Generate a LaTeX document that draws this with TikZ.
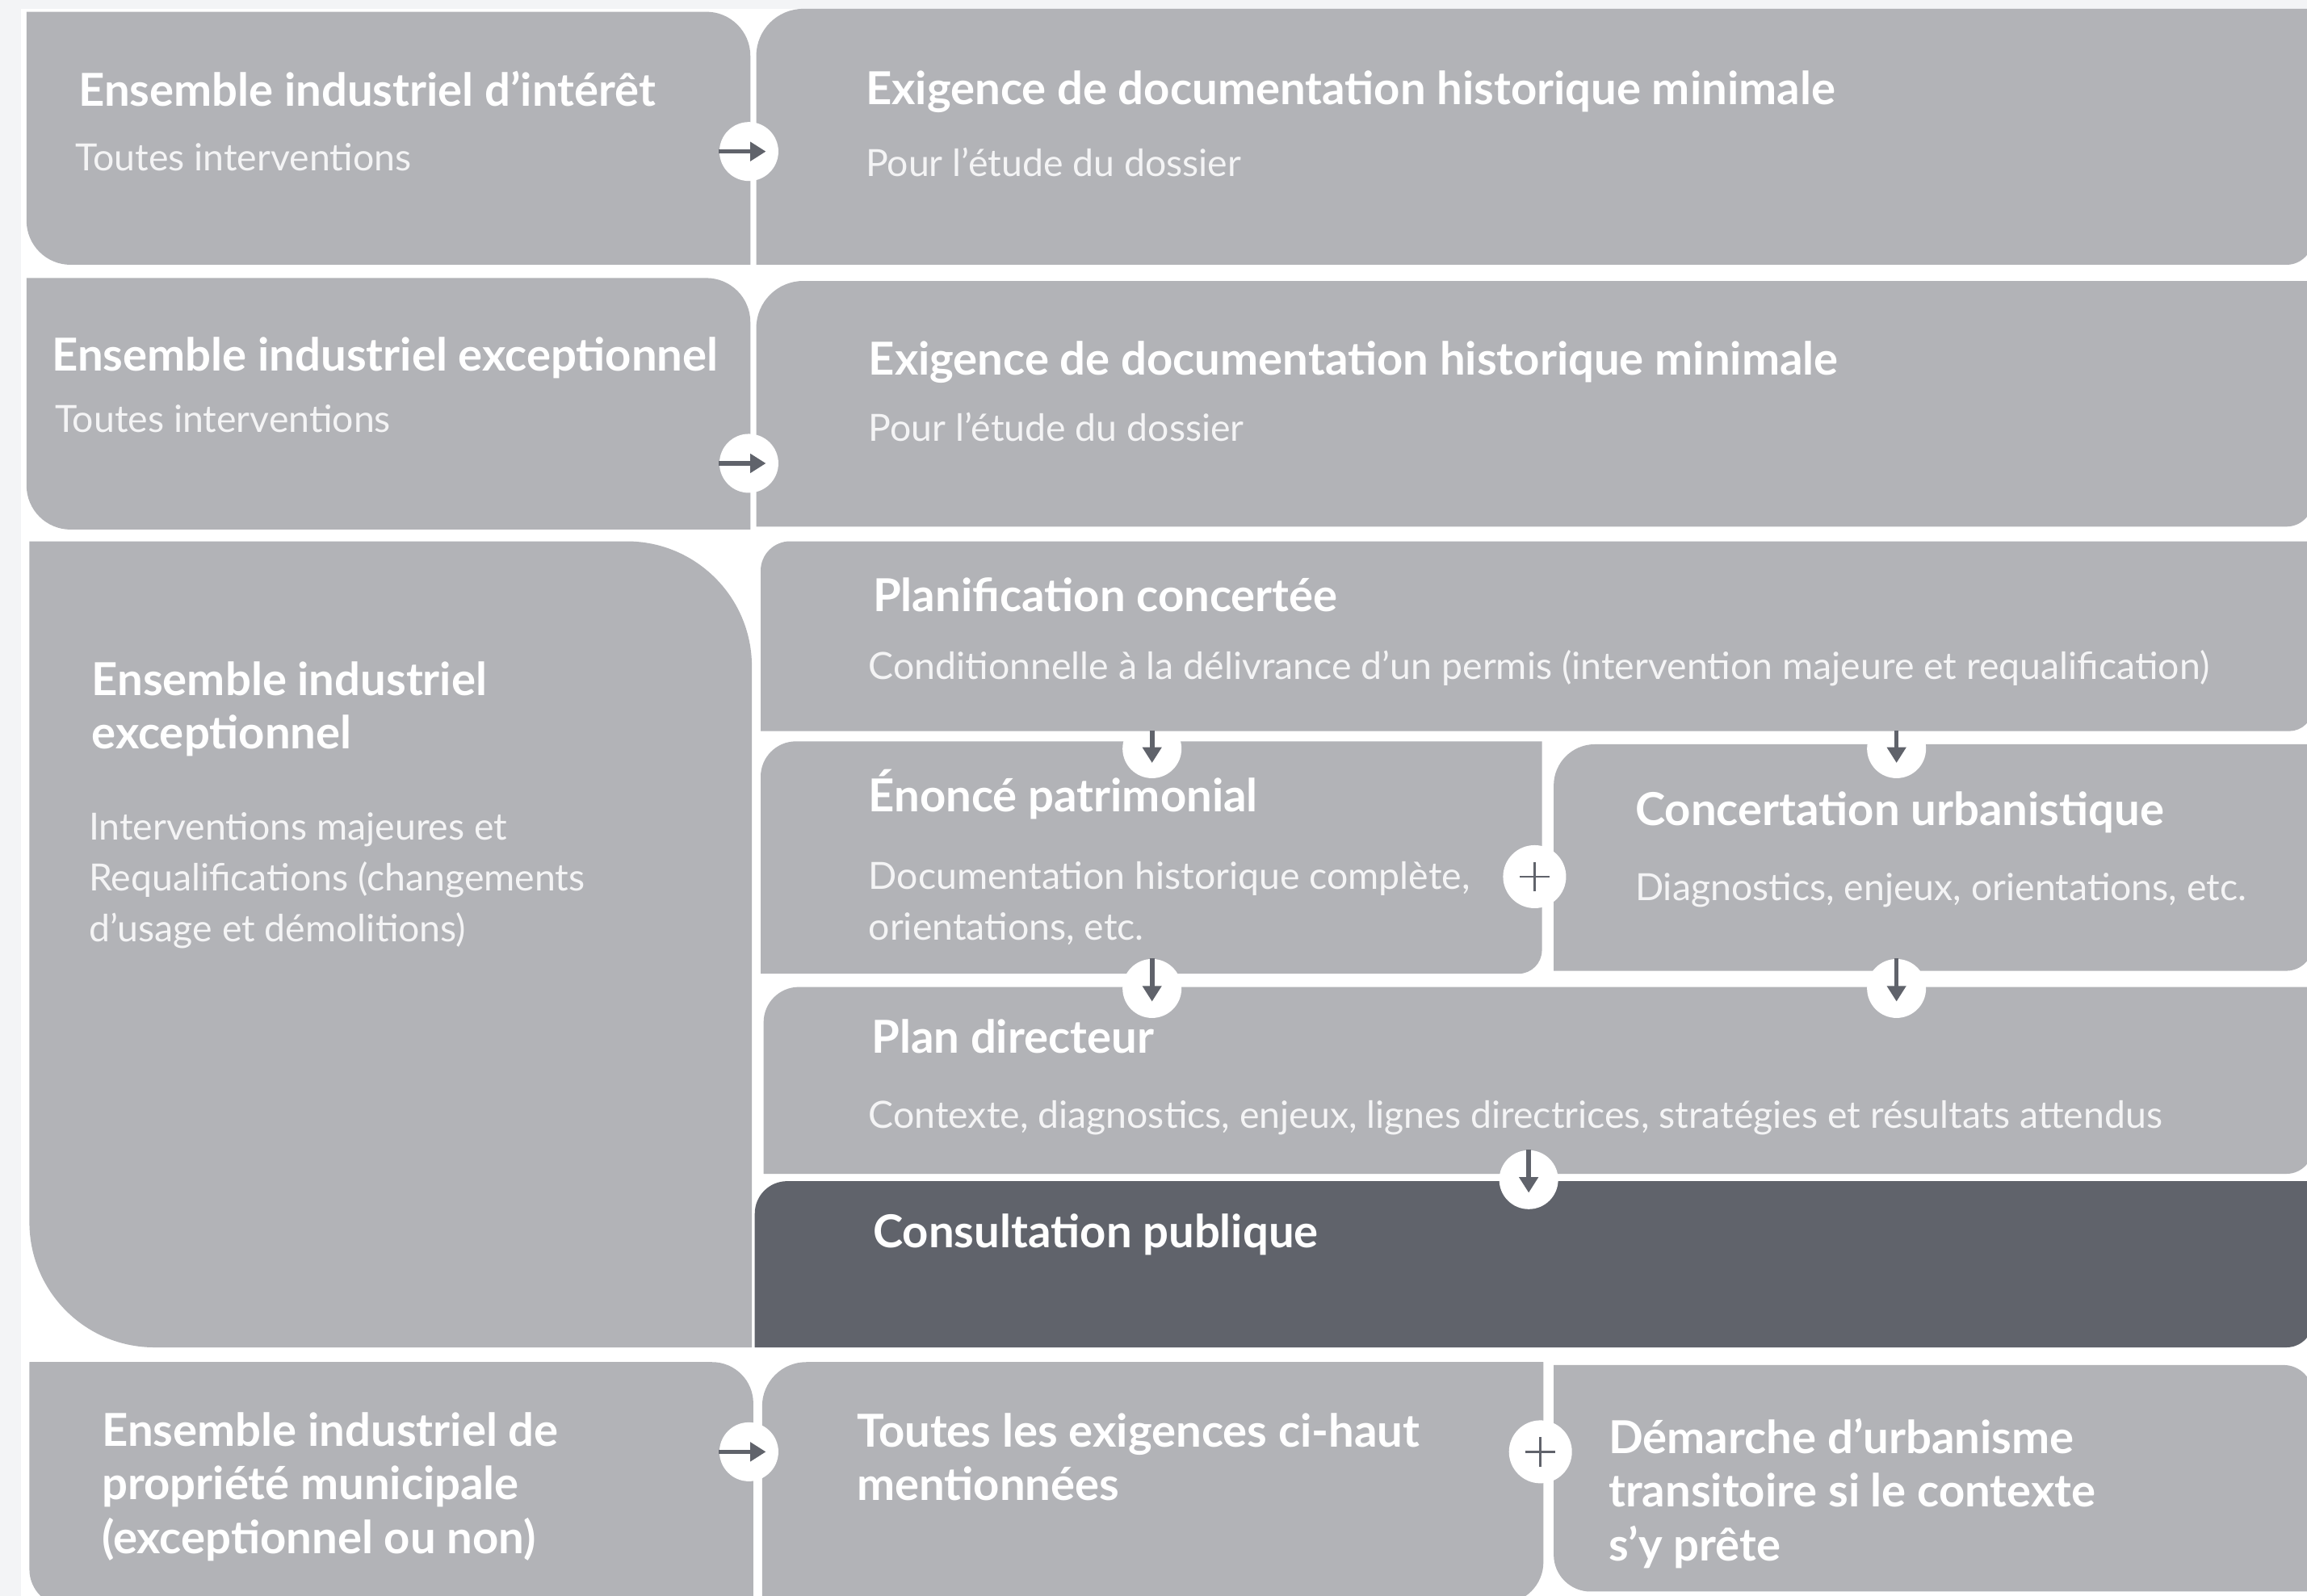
\documentclass[tikz,border=0pt]{standalone}
\usepackage{fontspec}
\setmainfont{Lato}
\usetikzlibrary{arrows.meta}

\definecolor{tilegray}{HTML}{B2B3B7}
\definecolor{tiledark}{HTML}{60636B}
\definecolor{pagegray}{HTML}{F3F4F6}
\definecolor{subwhite}{HTML}{F4F4F5}

% tile: colour, x1, y1, x2, y2, radii tl tr br bl
\newcommand{\drawtile}[9][tilegray]{%
  \fill[#1] (#2+#6,#3) -- (#4-#7,#3) arc[start angle=-90,end angle=0,radius=#7]
    -- (#4,#5-#8) arc[start angle=0,end angle=90,radius=#8]
    -- (#2+#9,#5) arc[start angle=90,end angle=180,radius=#9]
    -- (#2,#3+#6) arc[start angle=180,end angle=270,radius=#6] -- cycle;}

\begin{document}
\begin{tikzpicture}[x=0.01822cm, y=-0.01822cm,
  head/.style={anchor=base west, inner sep=0, text=white, align=left,
    font=\bfseries\fontsize{16}{18.9}\selectfont},
  sub/.style={anchor=base west, inner sep=0, text=subwhite, align=left,
    font=\fontsize{13.2}{17.8}\selectfont},
  hub/.style={circle, fill=white, inner sep=0, minimum size=0.73cm},
  plushub/.style={circle, fill=white, inner sep=0, minimum size=0.78cm},
  arr/.style={-{Triangle[length=5.5pt,width=6.5pt]}, line width=1.6pt, draw=tiledark},
  plusline/.style={draw=tiledark, line width=0.8pt}]

\useasboundingbox (0,0) rectangle (1568,1085);
\fill[white] (0,0) rectangle (1568,1085);
\fill[pagegray] (0,0) rectangle (14,1085);
\fill[pagegray] (0,0) rectangle (1568,6);

% rows 1 and 2
\drawtile{18}{8}{510}{180}{0.1}{30}{0.1}{30}
\drawtile{514}{6}{1572}{180}{32}{0.1}{18}{0.1}
\drawtile{18}{189}{510}{360}{0.1}{30}{0.1}{30}
\drawtile{514}{191}{1572}{358}{32}{0.1}{18}{0.1}

% row 3
\drawtile{20}{368}{511}{916}{0.1}{85}{0.1}{85}
\drawtile{517}{504}{1048}{662}{24}{0.1}{16}{0.1}
\drawtile{1056}{506}{1572}{660}{28}{0.1}{18}{0.1}
\drawtile{519}{671}{1572}{798}{24}{0.1}{18}{0.1}
\drawtile[tiledark]{513}{803}{1572}{916}{22}{0.1}{18}{0.1}

\node[hub] (d1) at (783,509) {};
\node[hub] (d2) at (1289,509) {};
\drawtile{517}{368}{1572}{497}{20}{0.1}{16}{0.1}

% row 4
\drawtile{20}{926}{512}{1092}{0.1}{28}{0.1}{25}
\drawtile{518}{926}{1049}{1090}{30}{0.1}{28}{0.1}
\drawtile{1056}{928}{1572}{1082}{0.1}{20}{0.1}{25}

% hubs
\node[hub] (a1) at (509,103) {};
\node[hub] (a2) at (509,315) {};
\node[hub] (a3) at (509,987) {};
\node[hub] (d3) at (783,672) {};
\node[hub] (d4) at (1289,672) {};
\node[hub] (d5) at (1039,802) {};
\node[plushub] (p1) at (1043,596) {};
\node[plushub] (p2) at (1047,987) {};

\draw[arr] (a1.west) -- ([xshift=-4.6pt]a1.east);
\draw[arr] (a2.west) -- ([xshift=-4.6pt]a2.east);
\draw[arr] (a3.west) -- ([xshift=-4.6pt]a3.east);
\draw[arr] ([yshift=-4.1pt]d1.north) -- ([yshift=-5pt]d1.center);
\draw[arr] ([yshift=-4.1pt]d2.north) -- ([yshift=-5pt]d2.center);
\draw[arr] (d3.north) -- ([yshift=-4.6pt]d3.center);
\draw[arr] (d4.north) -- ([yshift=-4.6pt]d4.center);
\draw[arr] (d5.north) -- ([yshift=-4.6pt]d5.center);
\draw[plusline] ([xshift=-5.2pt]p1.center) -- ([xshift=5.2pt]p1.center);
\draw[plusline] ([yshift=-5.2pt]p1.center) -- ([yshift=5.2pt]p1.center);
\draw[plusline] ([xshift=-5.2pt]p2.center) -- ([xshift=5.2pt]p2.center);
\draw[plusline] ([yshift=-5.2pt]p2.center) -- ([yshift=5.2pt]p2.center);

% texts (multi-line nodes sit on the baseline of their last line)
\node[head] (t1) at (53,72) {Ensemble industriel d’intérêt};
\node[sub] (s1) at (51,116) {Toutes interventions};
\node[head] (t2) at (588,71) {Exigence de documentation historique minimale};
\node[sub] (s2) at (588,120) {Pour l’étude du dossier};
\node[head] (t3) at (35,252) {Ensemble industriel exceptionnel};
\node[sub] (s3) at (37,294) {Toutes interventions};
\node[head] (t4) at (590,255) {Exigence de documentation historique minimale};
\node[sub] (s4) at (590,300) {Pour l’étude du dossier};
\node[head] (t5) at (62,509) {Ensemble industriel\\exceptionnel};
\node[sub] (s5) at (60,640) {Interventions majeures et\\Requalifications (changements\\d’usage et démolitions)};
\node[head] (t6) at (593,416) {Planification concertée};
\node[sub] (s6) at (590,462) {Conditionnelle à la délivrance d’un permis (intervention majeure et requalification)};
\node[head] (t7) at (590,552) {Énoncé patrimonial};
\node[sub] (s7) at (590,639) {Documentation historique complète,\\orientations, etc.};
\node[head] (t8) at (1111,561) {Concertation urbanistique};
\node[sub] (s8) at (1111,612) {Diagnostics, enjeux, orientations, etc.};
\node[head] (t9) at (592,716) {Plan directeur};
\node[sub] (s9) at (590,767) {Contexte, diagnostics, enjeux, lignes directrices, stratégies et résultats attendus};
\node[head] (t10) at (593,848) {Consultation publique};
\node[head] (t11) at (69,1056) {Ensemble industriel de\\propriété municipale\\(exceptionnel ou non)};
\node[head] (t12) at (582,1020) {Toutes les exigences ci-haut\\mentionnées};
\node[head] (t13) at (1093,1061) {Démarche d’urbanisme\\transitoire si le contexte\\s’y prête};
\end{tikzpicture}
\end{document}
